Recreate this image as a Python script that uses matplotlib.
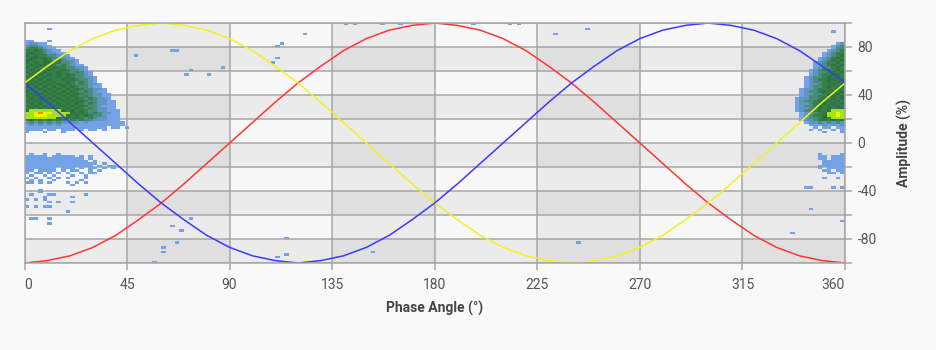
import numpy as np
import matplotlib.pyplot as plt
from matplotlib.colors import ListedColormap, BoundaryNorm

plt.rcParams['font.family'] = ['Roboto', 'DejaVu Sans']
plt.rcParams['axes.unicode_minus'] = False

# reference sine lines, sampled every 10 degrees
phase_pts = list(range(0, 361, 10))
red = [-100, -98, -94, -87, -77, -64, -50, -34, -17, 0, 17, 34, 50, 64, 77, 87, 94, 98, 100,
       98, 94, 87, 77, 64, 50, 34, 17, 0, -17, -34, -50, -64, -77, -87, -94, -98, -100]
yellow = [50, 64, 77, 87, 94, 98, 100, 98, 94, 87, 77, 64, 50, 34, 17, 0, -17, -34, -50,
          -64, -77, -87, -94, -98, -100, -98, -94, -87, -77, -64, -50, -34, -17, 0, 17, 34, 50]
blue = [50, 34, 17, 0, -17, -34, -50, -64, -77, -87, -94, -98, -100, -98, -94, -87, -77, -64, -50,
        -34, -17, 0, 17, 34, 50, 64, 77, 87, 94, 98, 100, 98, 94, 87, 77, 64, 50]

# PD density levels around phase 0 ("right part|left part"),
# right part = 338..360 deg, left part = 0..46 deg, 2 deg x 2 % cells, top row 84..86 %
pd_rows = [
    "|11...1",
    "12|12211",
    "123|233211",
    "133|3443211",
    "1234|44543211",
    "12344|454432211",
    "12345|5454433221",
    "123454|45545433221",
    "123545|554454343221",
    "1234454|545455443321",
    "1234545|4545544343211",
    "1233454|54545454433221",
    "12345454|45454544543321",
    "12334545|545454454434321",
    "12344554|454545454543321",
    "123345454|5454544545433221",
    "123445545|4545454454543321",
    "123345454|5454545445434321",
    "122344545|45454545454343221",
    "123345454|54545454545433211",
    "1223445454|454545454545433221",
    "1233454545|545454545454343211",
    "1223345454|4545454545454332211",
    "1233445545|5454545454543432211",
    "12233454545|4545454545454343221",
    "12334545454|54545454545454332211",
    "12234454545|45454545454543432211",
    "12334545454|54545454545454332111",
    "12234545455|45454545454543432211",
    "12334545666|566666665454543322111",
    "1233456676|667877666654543432211",
    "1234456676|667776666545454332111",
    "1233454666|666666654545434322111",
    "1223454545|454545444343433222111",
    "122323232|2323232322221211111111",
    "11121212|1212121211111111111111",
    "1.11.11|111111111111111111.11.1",
    "1.1..1.1|1111.11.111.1.11.1",
    "1...1|1...1...1",
    "|", "|", "|", "|", "|", "|", "|", "|",
    "1....1|.1..1..1",
    "11.111|11111.11111.1.1",
    "11.111|1111111111111.1",
    "11111|11111111111111.1",
    "11111|1111111111111111.1",
    "111111|111111111111111.1.11",
    "1.1111|1111111.111.1.11.1.1",
    "11.11|11.1111.1.11..1.1",
    "11.1|1.11.1.1.1..1.11",
    "|.1..1.1...1..1",
    "1..1.|1.1..1.1.1...1",
    "|.1.1..1.....1",
    "|11.1.1...1.1.1",
    "|..........1",
    "1....1.1|",
    "|...1",
]

# isolated pulses (phase deg, amplitude %)
stray_cells = [
    (11, 95), (48, 72), (65, 76), (67, 76), (87, 63), (71, 56), (73, 60), (80, 56),
    (122, 91), (113, 83), (111, 81), (111, 70), (109, 66), (141, 99), (145, 99),
    (157, 99), (165, 99), (173, 99), (185, 99), (197, 99), (212, 99), (216, 99),
    (232, 91), (246, 94), (355, 92),
    (61, -92), (57, -99), (111, -95), (115, -94), (153, -92), (243, -83), (115, -79),
    (358, -65), (345, -55), (337, -76), (343, -37), (61, -88), (69, -74), (65, -69),
    (73, -64), (67, -83),
    (6, -41), (2, -43), (11, -43), (13, -43), (26, -43), (9, -45), (21, -45),
    (1, -48), (5, -48), (9, -48), (11, -49), (15, -49), (20, -49), (1, -53),
    (5, -53), (9, -53), (11, -53), (18, -58), (2, -64), (4, -64), (10, -64), (10, -68),
]

level_colors = ['#74a2e6', '#5f96c0', '#4a8c7c', '#36804e', '#2c763e',
                '#a6e21c', '#eef500', '#ff8a10']

density = np.full((100, 180), np.nan)
for r, s in enumerate(pd_rows):
    right, left = s.split('|')
    row = right.rjust(11, '.') + left.ljust(23, '.')
    amp_low = 84 - 2 * r
    for c, ch in enumerate(row):
        if ch.isdigit():
            ph = (-22 + 2 * c) % 360
            density[(amp_low + 100) // 2, ph // 2] = int(ch)
for ph, amp in stray_cells:
    density[int((amp + 100) // 2), int(ph // 2) % 180] = 1

fig = plt.figure(figsize=(9.36, 3.5), dpi=100, facecolor='#f9f9f9')
ax = fig.add_axes([24.5 / 936, 87 / 350, 820.5 / 936, 240 / 350])
ax.set_facecolor('#f8f8f8')

for x0 in range(45, 360, 90):
    ax.axvspan(x0, x0 + 45, color='black', alpha=0.052, lw=0, zorder=0.1)
for y0 in range(-100, 100, 40):
    ax.axhspan(y0, y0 + 20, color='black', alpha=0.052, lw=0, zorder=0.1)

ax.pcolormesh(np.arange(0, 361, 2), np.arange(-100, 101, 2), np.ma.masked_invalid(density),
              cmap=ListedColormap(level_colors), norm=BoundaryNorm(np.arange(0.5, 9.5), 8),
              zorder=1)

ax.plot(phase_pts, red, color='#ff3636', lw=1.1, zorder=2)
ax.plot(phase_pts, yellow, color='#f2f222', lw=1.1, zorder=2)
ax.plot(phase_pts, blue, color='#3a3aff', lw=1.1, zorder=2)

ax.set_xlim(0, 360)
ax.set_ylim(-100, 100)
ax.yaxis.tick_right()
ax.yaxis.set_label_position('right')
ax.set_xticks(range(0, 361, 45))
ax.set_yticks([-80, -40, 0, 40, 80])
ax.set_yticks(range(-100, 101, 20), minor=True)
ax.tick_params(which='both', length=5, width=1.1, color='#a6a6a6', labelcolor='#555555', labelsize=10)
ax.tick_params(axis='x', pad=6)
ax.tick_params(axis='y', pad=4)
ax.grid(True, axis='x', which='major', color='#a6a6a6', lw=1.1)
ax.grid(True, axis='y', which='both', color='#a6a6a6', lw=1.1)
ax.set_axisbelow(True)
for sp in ax.spines.values():
    sp.set_color('#a6a6a6')
    sp.set_linewidth(1.1)

labels = ax.get_xticklabels()
labels[0].set_ha('left')
labels[-1].set_ha('right')

ax.set_xlabel('Phase Angle (°)', fontsize=10, fontweight='bold', color='#444444')
ax.set_ylabel('Amplitude (%)', fontsize=10, fontweight='bold', color='#444444')
ax.xaxis.set_label_coords(0.5, -0.16)
ax.yaxis.set_label_coords(1.063, 0.5)

fig.savefig('out.png', dpi=100, facecolor=fig.get_facecolor())
